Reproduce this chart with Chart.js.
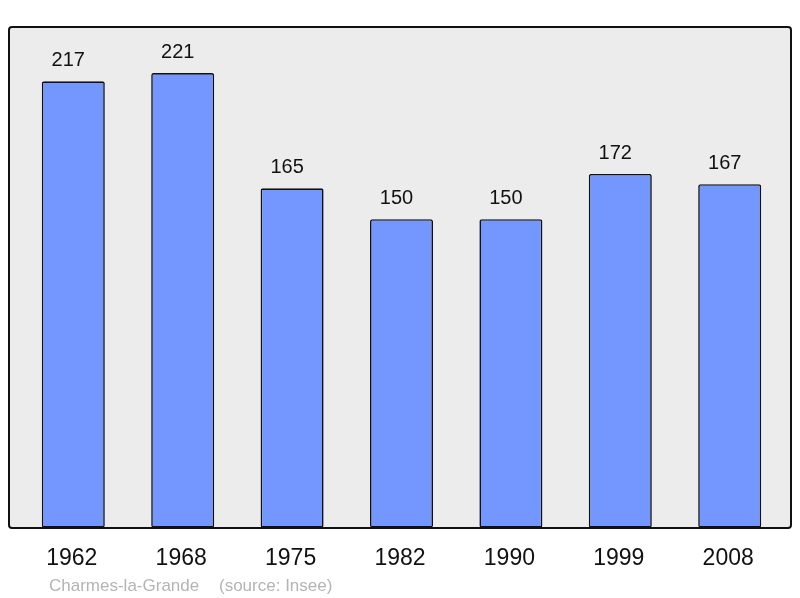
<!DOCTYPE html>
<html>
<head>
<meta charset="utf-8">
<script src="https://cdn.jsdelivr.net/npm/chart.js@4/dist/chart.umd.min.js"></script>
<style>
  html, body { margin: 0; padding: 0; background: #fff; }
  #wrap { width: 800px; height: 598px; position: relative; }
</style>
</head>
<body>
<div id="wrap"><canvas id="popChart"></canvas></div>
<script>
// population data (Insee)
const years = ['1962', '1968', '1975', '1982', '1990', '1999', '2008'];
const population = [217, 221, 165, 150, 150, 172, 167];
const placeName = 'Charmes-la-Grande';
const sourceNote = '(source: Insee)';

const FONT = "'Liberation Sans', Arial, sans-serif";

// grey frame behind the bars + labels
const framePlugin = {
    id: 'frame',
    beforeDatasetsDraw(chart) {
        const c = chart.ctx;
        c.save();
        c.beginPath();
        c.roundRect(9, 27, 782, 501, 3);
        c.fillStyle = '#ececec';
        c.fill();
        c.lineWidth = 2;
        c.strokeStyle = '#111';
        c.stroke();
        c.restore();
    },
    afterDatasetsDraw(chart) {
        const c = chart.ctx;
        const meta = chart.getDatasetMeta(0);
        const xs = chart.scales.x;
        c.save();
        c.fillStyle = '#111';
        c.textAlign = 'center';
        c.textBaseline = 'alphabetic';
        c.font = '20px ' + FONT;
        meta.data.forEach((bar, i) => {
            c.fillText(String(population[i]), bar.x - 5, bar.y - 15);
        });
        c.font = '23px ' + FONT;
        years.forEach((y, i) => {
            c.fillText(y, xs.getPixelForTick(i) - 1.5, 565);
        });
        c.fillStyle = '#b4b4b4';
        c.textAlign = 'left';
        c.font = '17px ' + FONT;
        c.fillText(placeName, 49, 591);
        c.fillText(sourceNote, 219, 591);
        c.restore();
    }
};

new Chart(document.getElementById('popChart'), {
    type: 'bar',
    data: {
        labels: years,
        datasets: [{
            data: population,
            backgroundColor: '#7396ff',
            borderColor: '#111',
            borderWidth: 1.6,
            borderRadius: 2,
            borderSkipped: false,
            barPercentage: 0.576,
            categoryPercentage: 1
        }]
    },
    options: {
        responsive: true, maintainAspectRatio: false,
        animation: false,
        devicePixelRatio: 1,
        layout: { padding: { left: 18.6, right: 15.6, top: 27, bottom: 70.3 } },
        plugins: { legend: { display: false }, tooltip: { enabled: false } },
        scales: {
            x: { display: false },
            y: { display: false, min: 0, max: 243.4 }
        }
    },
    plugins: [framePlugin]
});
</script>
</body>
</html>
